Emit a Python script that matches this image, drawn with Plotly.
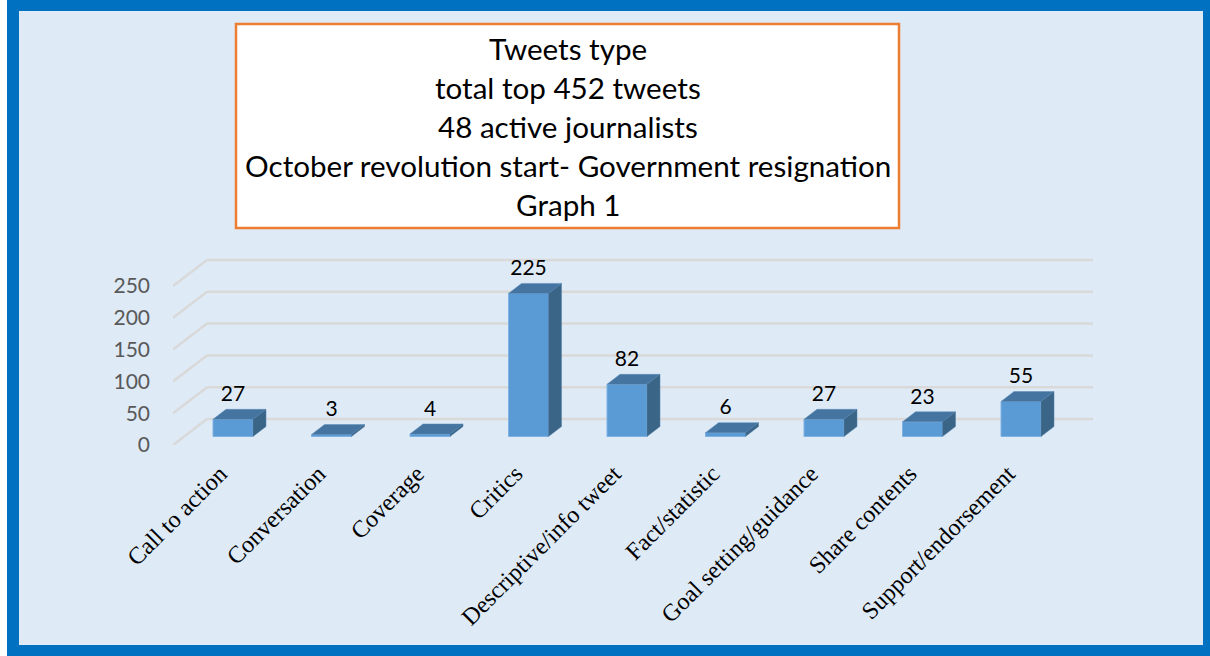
import plotly.graph_objects as go

categories = ["Call to action", "Conversation", "Coverage", "Critics", "Descriptive/info tweet",
              "Fact/statistic", "Goal setting/guidance", "Share contents", "Support/endorsement"]
values = [27, 3, 4, 225, 82, 6, 27, 23, 55]
y_ticks = [0, 50, 100, 150, 200, 250]
title_lines = ["Tweets type", "total top 452 tweets", "48 active journalists",
               "October revolution start- Government resignation", "Graph 1"]

W, H = 1210, 656
L, R, T, B = 173, 1100, 250, 445
PX_PER_UNIT = 0.636
PX_PER_CAT = 98.5
X0_PX = 233
y_max = (B - T) / PX_PER_UNIT
x_min = (L - X0_PX) / PX_PER_CAT
x_max = (R - X0_PX) / PX_PER_CAT


def fx(px):
    return (px - L) / (R - L)


def fy(py):
    return (B - py) / (B - T)


xs = list(range(len(categories)))
bar_w = 40 / PX_PER_CAT
bar_base = 8.5 / PX_PER_UNIT
dx = 13 / PX_PER_CAT
dy = 10 / PX_PER_UNIT
wall_dx = 34 / PX_PER_CAT
wall_dy = 26 / PX_PER_UNIT
wall_end = (1093 - X0_PX) / PX_PER_CAT
label_gap = 13.5 / PX_PER_UNIT
tick_shift = 13 / PX_PER_CAT

shapes = [
    dict(type="rect", xref="paper", yref="paper", x0=fx(7), x1=fx(W), y0=fy(H), y1=fy(0),
         fillcolor="#0070C0", line_width=0, layer="below"),
    dict(type="rect", xref="paper", yref="paper", x0=fx(19), x1=fx(1203), y0=fy(645), y1=fy(11),
         fillcolor="#DEEAF6", line_width=0, layer="below"),
    dict(type="rect", xref="paper", yref="paper", x0=fx(236), x1=fx(899), y0=fy(228), y1=fy(24),
         fillcolor="white", line=dict(color="#ED7D31", width=2.5), layer="below"),
]
grid = dict(color="#D9D9D9", width=2.5)
for v in y_ticks:
    shapes.append(dict(type="line", xref="x", yref="y", x0=x_min, y0=v,
                       x1=x_min + wall_dx, y1=v + wall_dy, line=grid, layer="below"))
    shapes.append(dict(type="line", xref="x", yref="y", x0=x_min + wall_dx, y0=v + wall_dy,
                       x1=wall_end, y1=v + wall_dy, line=grid, layer="below"))

fig = go.Figure()
fig.add_bar(x=xs, y=values, base=bar_base, width=bar_w,
            marker=dict(color="#5B9BD5", line=dict(color="#7FB2E3", width=1)), showlegend=False)

top_x, top_y, side_x, side_y = [], [], [], []
for i, v in zip(xs, values):
    left, right = i - bar_w / 2, i + bar_w / 2
    low, high = bar_base, bar_base + v
    top_x += [left, right, right + dx, left + dx, left, None]
    top_y += [high, high, high + dy, high + dy, high, None]
    side_x += [right, right + dx, right + dx, right, right, None]
    side_y += [low, low + dy, high + dy, high, low, None]

fig.add_scatter(x=top_x, y=top_y, mode="lines", fill="toself", fillcolor="#44749F",
                line=dict(color="#5A8DBB", width=0.5), showlegend=False, hoverinfo="skip")
fig.add_scatter(x=side_x, y=side_y, mode="lines", fill="toself", fillcolor="#3B6587",
                line=dict(color="#4F7FA8", width=0.5), showlegend=False, hoverinfo="skip")
fig.add_scatter(x=xs, y=[v + bar_base + dy + label_gap for v in values], mode="text",
                text=[str(v) for v in values], textposition="middle center",
                textfont=dict(family="Lato", size=21, color="black"),
                showlegend=False, hoverinfo="skip", cliponaxis=False)

annotations = []
for k, line in enumerate(title_lines):
    annotations.append(dict(xref="paper", yref="paper", x=fx(567.5), y=fy(48 + 39.2 * k),
                            text=line, showarrow=False, xanchor="center", yanchor="middle",
                            font=dict(family="Lato", size=29.6, color="black")))

fig.update_layout(
    width=W, height=H, autosize=False,
    margin=dict(l=L, r=W - R, t=T, b=H - B, pad=0),
    paper_bgcolor="white", plot_bgcolor="rgba(0,0,0,0)",
    barmode="overlay", shapes=shapes, annotations=annotations,
    xaxis=dict(range=[x_min, x_max], tickmode="array", tickvals=[i - tick_shift for i in xs],
               ticktext=categories,
               tickangle=-45, showgrid=False, zeroline=False, showline=False, ticks="",
               ticklabelstandoff=9, automargin=False,
               tickfont=dict(family="Liberation Serif", size=24, color="black")),
    yaxis=dict(range=[0, y_max], tickmode="array", tickvals=y_ticks,
               showgrid=False, zeroline=False, showline=False, ticks="",
               ticklabelstandoff=22, automargin=False,
               tickfont=dict(family="Lato", size=21, color="#595959")),
)

fig.write_html("out.html", config={"displayModeBar": False, "responsive": False},
               post_script="document.body.style.margin='0';document.body.style.overflow='hidden';")
